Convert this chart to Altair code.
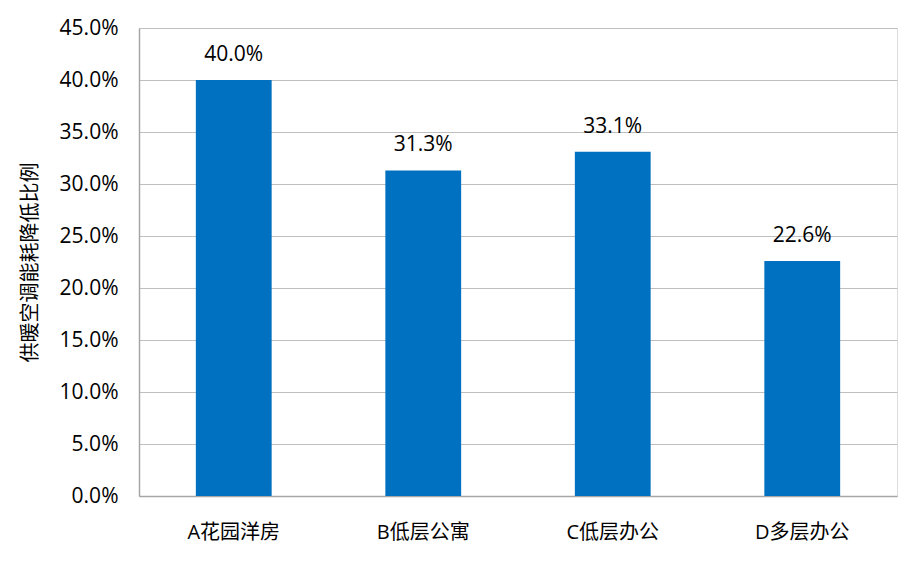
import altair as alt
import pandas as pd

categories = ["A花园洋房", "B低层公寓", "C低层办公", "D多层办公"]
values = [0.400, 0.313, 0.331, 0.226]
labels = ["40.0%", "31.3%", "33.1%", "22.6%"]

df = pd.DataFrame({"cat": categories, "val": values, "lab": labels})

FONT = "Open Sans, Noto Sans CJK SC"

base = alt.Chart(df)

bars = base.mark_bar(color="#0070C0").encode(
    x=alt.X("cat:N", sort=categories,
            scale=alt.Scale(paddingInner=0.6, paddingOuter=0.3),
            axis=alt.Axis(title=None, labelAngle=0, labelFontSize=20, labelFont=FONT,
                          labelColor="#000000", labelPadding=26, ticks=False,
                          domainColor="#a6a6a6", domainWidth=1.5)),
    y=alt.Y("val:Q",
            scale=alt.Scale(domain=[0, 0.45], nice=False),
            axis=alt.Axis(title="供暖空调能耗降低比例", format=".1%", values=[i * 0.05 for i in range(10)],
                          labelFontSize=21, labelFont=FONT, labelColor="#000000", labelPadding=21,
                          ticks=False, domainColor="#a6a6a6", domainWidth=1.5,
                          gridColor="#bfbfbf", gridWidth=1.2,
                          titleFontSize=20, titleFont=FONT, titleFontWeight="normal",
                          titleColor="#000000", titleX=-109, titleY=262 - 28, titleAngle=-90,
                          titleBaseline="middle", titleAlign="center")),
)

text = base.mark_text(baseline="alphabetic", dy=-19, fontSize=21, font=FONT, color="#000000").encode(
    x=alt.X("cat:N", sort=categories),
    y="val:Q",
    text="lab:N",
)

chart = (bars + text).properties(
    width=758, height=468,
    autosize=alt.AutoSizeParams(type="none"),
    padding={"left": 131, "top": 20, "right": 1, "bottom": 50},
).configure_view(stroke=None).configure(background="#ffffff")

chart.save("out.html", embed_options={"renderer": "svg", "actions": False})
